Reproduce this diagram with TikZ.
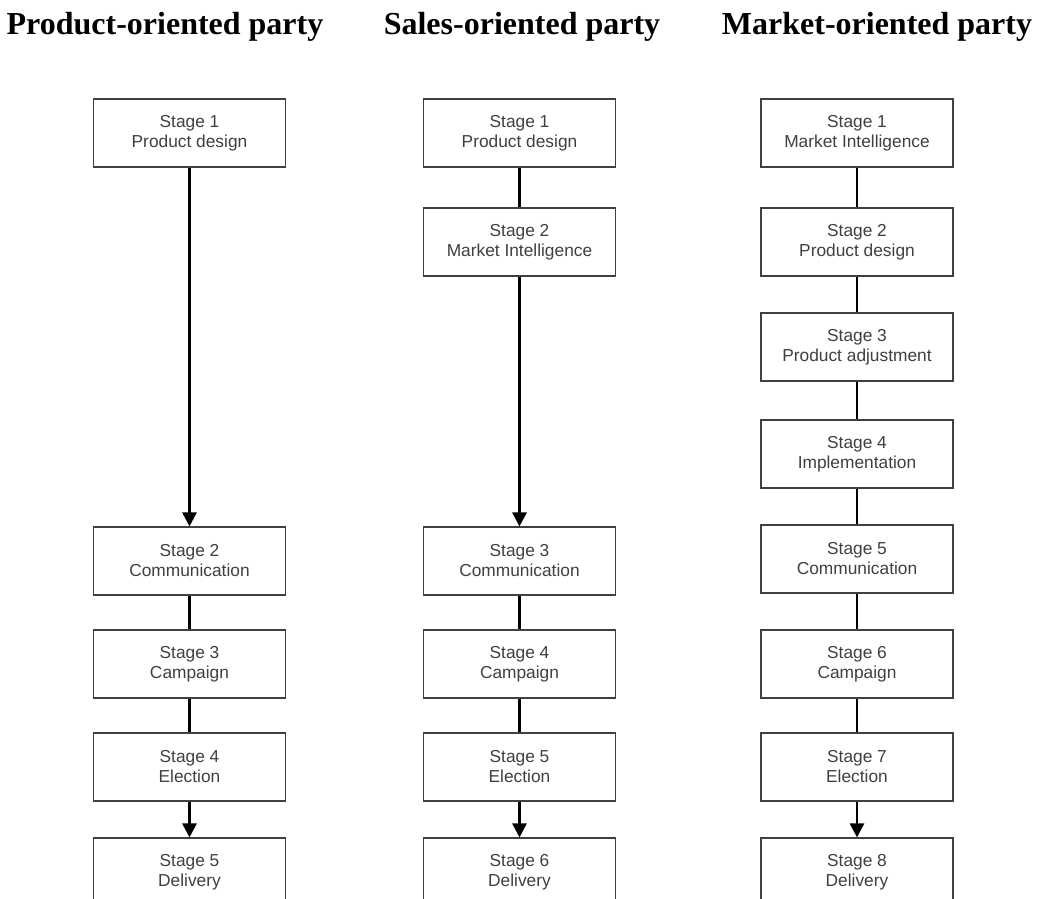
\documentclass[tikz,border=0pt]{standalone}
\usepackage{fontspec}
\setmainfont{Liberation Serif}
\setsansfont{Liberation Sans}
\usetikzlibrary{arrows.meta}

\tikzset{
  stagebox/.style={draw=black!75, line width=0.8pt, fill=white, align=center,
    minimum width=144pt, minimum height=51pt, inner sep=0pt,
    font=\sffamily\fontsize{13}{15}\selectfont, text=black!75},
  partytitle/.style={font=\bfseries\fontsize{24}{28}\selectfont, anchor=base},
  link/.style={line width=2pt},
  flowarrow/.style={line width=2pt, -{Triangle[length=10.5pt,width=10.5pt]}}
}

\begin{document}
\begin{tikzpicture}[x=0.75pt,y=-0.75pt]
\useasboundingbox (0,0) rectangle (1040,899);
\clip (0,0) rectangle (1040,899);
\fill[white] (0,0) rectangle (1040,899);
% Titles
\node[partytitle] (ptitle) at (165,35) {Product-oriented party};
\node[partytitle] (stitle) at (522,35) {Sales-oriented party};
\node[partytitle] (mtitle) at (877,35) {Market-oriented party};
% Product-oriented party
\node[stagebox] (p1) at (189.5,133) {Stage 1\\Product design};
\node[stagebox] (p2) at (189.5,561) {Stage 2\\Communication};
\node[stagebox] (p3) at (189.5,664) {Stage 3\\Campaign};
\node[stagebox] (p4) at (189.5,767) {Stage 4\\Election};
\node[stagebox] (p5) at (189.5,872) {Stage 5\\Delivery};
\draw[flowarrow] (p1) -- (p2);
\draw[link] (p2) -- (p3);
\draw[link] (p3) -- (p4);
\draw[flowarrow] (p4) -- (p5);
% Sales-oriented party
\node[stagebox] (s1) at (519.5,133) {Stage 1\\Product design};
\node[stagebox] (s2) at (519.5,242) {Stage 2\\Market Intelligence};
\node[stagebox] (s3) at (519.5,561) {Stage 3\\Communication};
\node[stagebox] (s4) at (519.5,664) {Stage 4\\Campaign};
\node[stagebox] (s5) at (519.5,767) {Stage 5\\Election};
\node[stagebox] (s6) at (519.5,872) {Stage 6\\Delivery};
\draw[link] (s1) -- (s2);
\draw[flowarrow] (s2) -- (s3);
\draw[link] (s3) -- (s4);
\draw[link] (s4) -- (s5);
\draw[flowarrow] (s5) -- (s6);
% Market-oriented party
\node[stagebox] (m1) at (857,133) {Stage 1\\Market Intelligence};
\node[stagebox] (m2) at (857,242) {Stage 2\\Product design};
\node[stagebox] (m3) at (857,347) {Stage 3\\Product adjustment};
\node[stagebox] (m4) at (857,454) {Stage 4\\Implementation};
\node[stagebox] (m5) at (857,559) {Stage 5\\Communication};
\node[stagebox] (m6) at (857,664) {Stage 6\\Campaign};
\node[stagebox] (m7) at (857,767) {Stage 7\\Election};
\node[stagebox] (m8) at (857,872) {Stage 8\\Delivery};
\draw[link] (m1) -- (m2);
\draw[link] (m2) -- (m3);
\draw[link] (m3) -- (m4);
\draw[link] (m4) -- (m5);
\draw[link] (m5) -- (m6);
\draw[link] (m6) -- (m7);
\draw[flowarrow] (m7) -- (m8);
\end{tikzpicture}
\end{document}
